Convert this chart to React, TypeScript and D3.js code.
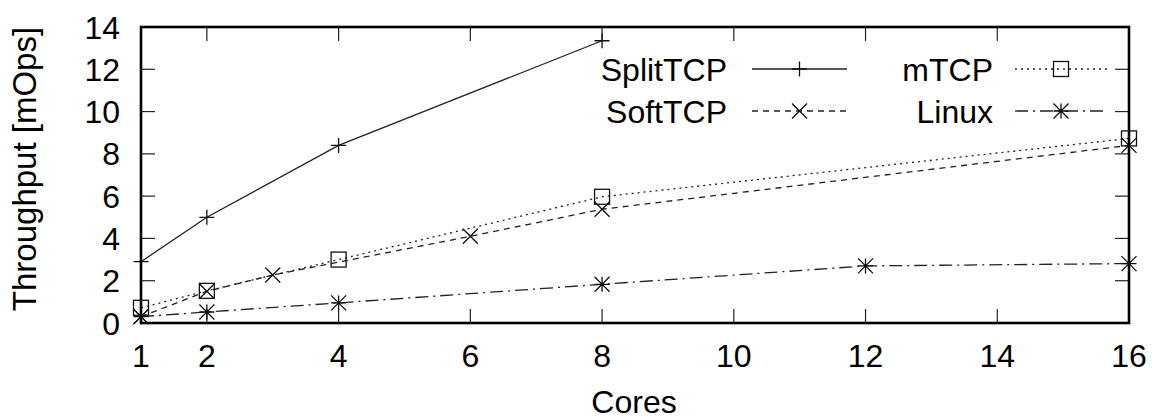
import * as d3 from 'd3';

// cores on the x axis
const xTicks = [1, 2, 4, 6, 8, 10, 12, 14, 16];
const yTicks = [0, 2, 4, 6, 8, 10, 12, 14];

const splitCores = [1, 2, 4, 8];
const splitTput = [2.9, 5.0, 8.4, 13.35];

const softCores = [1, 2, 3, 6, 8, 16];
const softTput = [0.3, 1.5, 2.27, 4.1, 5.38, 8.4];

const mtcpCores = [1, 2, 4, 8, 16];
const mtcpTput = [0.72, 1.52, 3.0, 5.97, 8.73];

const linuxCores = [1, 2, 4, 8, 12, 16];
const linuxTput = [0.3, 0.52, 0.95, 1.83, 2.7, 2.81];

const seriesNames = ['SplitTCP', 'SoftTCP', 'mTCP', 'Linux'];

const W = 1153;
const H = 419;
const left = 141;
const right = 1129;
const top = 27;
const bottom = 323;
const FONT = '"Liberation Sans", Arial, Helvetica, sans-serif';

type Kind = 'plus' | 'cross' | 'square' | 'star';

function Marker({x, y, kind}: {x: number; y: number; kind: Kind}) {
    const s = 7.5;
    const st = {stroke: '#111', strokeWidth: 1.3, fill: 'none'};
    if (kind === 'plus')
        return <path d={`M${x - s},${y}H${x + s}M${x},${y - s}V${y + s}`} {...st} />;
    if (kind === 'cross')
        return <path d={`M${x - s},${y - s}L${x + s},${y + s}M${x - s},${y + s}L${x + s},${y - s}`} {...st} />;
    if (kind === 'square')
        return <rect x={x - s} y={y - s} width={2 * s} height={2 * s} {...st} />;
    return (
        <path
            d={`M${x - s},${y}H${x + s}M${x},${y - s}V${y + s}M${x - s},${y - s}L${x + s},${y + s}M${x - s},${y + s}L${x + s},${y - s}`}
            {...st}
        />
    );
}

export default function App() {
    const x = d3.scaleLinear().domain([1, 16]).range([left, right]);
    const y = d3.scaleLinear().domain([0, 14]).range([bottom, top]);
    const line = d3
        .line<[number, number]>()
        .x((d) => x(d[0]))
        .y((d) => y(d[1]));

    const series = [
        {name: seriesNames[0], xs: splitCores, ys: splitTput, dash: 'none', kind: 'plus' as Kind},
        {name: seriesNames[1], xs: softCores, ys: softTput, dash: '6,5', kind: 'cross' as Kind},
        {name: seriesNames[2], xs: mtcpCores, ys: mtcpTput, dash: '2,4', kind: 'square' as Kind},
        {name: seriesNames[3], xs: linuxCores, ys: linuxTput, dash: '13,5,2,5', kind: 'star' as Kind},
    ];

    // legend placement: two columns, two rows
    const legend = [
        {textX: 727, y: 69, x0: 752, x1: 847},
        {textX: 727, y: 111, x0: 752, x1: 847},
        {textX: 993, y: 69, x0: 1015, x1: 1107},
        {textX: 993, y: 111, x0: 1015, x1: 1107},
    ];

    const tickLen = 14;

    return (
        <svg width={W} height={H} style={{position: 'absolute', left: 0, top: 0, background: '#fff'}} fontFamily={FONT}>
            {/* ticks, mirrored on all sides */}
            {yTicks.map((t) => (
                <g key={'y' + t} stroke="#222" strokeWidth={1.2}>
                    <line x1={left} x2={left + tickLen} y1={y(t)} y2={y(t)} />
                    <line x1={right} x2={right - tickLen} y1={y(t)} y2={y(t)} />
                </g>
            ))}
            {xTicks.map((t) => (
                <g key={'x' + t} stroke="#222" strokeWidth={1.2}>
                    <line x1={x(t)} x2={x(t)} y1={bottom} y2={bottom - tickLen} />
                    <line x1={x(t)} x2={x(t)} y1={top} y2={top + tickLen} />
                </g>
            ))}

            {/* series */}
            {series.map((s) => (
                <g key={s.name}>
                    <path
                        d={line(s.xs.map((c, i) => [c, s.ys[i]] as [number, number])) || ''}
                        fill="none"
                        stroke="#222"
                        strokeWidth={1.3}
                        strokeDasharray={s.dash}
                    />
                    {s.xs.map((c, i) => (
                        <Marker key={i} x={x(c)} y={y(s.ys[i])} kind={s.kind} />
                    ))}
                </g>
            ))}

            {/* border */}
            <rect x={left} y={top} width={right - left} height={bottom - top} fill="none" stroke="#000" strokeWidth={2.6} />

            {/* tick labels */}
            {yTicks.map((t) => (
                <text key={'yl' + t} x={120} y={y(t)} dy="0.36em" textAnchor="end" fontSize={32} fill="#000">
                    {t}
                </text>
            ))}
            {xTicks.map((t) => (
                <text key={'xl' + t} x={x(t)} y={367} textAnchor="middle" fontSize={32} fill="#000">
                    {t}
                </text>
            ))}

            {/* axis titles */}
            <text x={634} y={413} textAnchor="middle" fontSize={32} fill="#000">
                Cores
            </text>
            <text transform={`translate(36,${169}) rotate(-90)`} textAnchor="middle" fontSize={33} fill="#000">
                Throughput [mOps]
            </text>

            {/* legend */}
            {series.map((s, i) => {
                const L = legend[i];
                return (
                    <g key={'lg' + s.name}>
                        <text x={L.textX} y={L.y} dy="0.36em" textAnchor="end" fontSize={32} fill="#000">
                            {s.name}
                        </text>
                        <line x1={L.x0} x2={L.x1} y1={L.y} y2={L.y} stroke="#222" strokeWidth={1.3} strokeDasharray={s.dash} />
                        <Marker x={(L.x0 + L.x1) / 2} y={L.y} kind={s.kind} />
                    </g>
                );
            })}
        </svg>
    );
}
